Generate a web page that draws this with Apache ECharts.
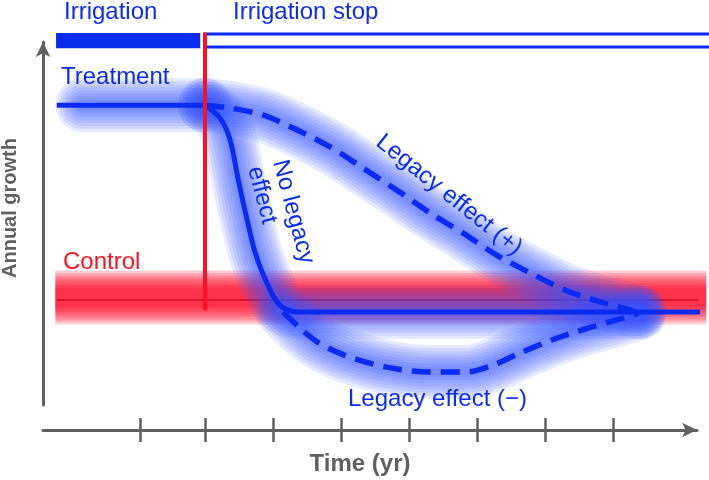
<!DOCTYPE html>
<html><head><meta charset="utf-8">
<script src="https://cdn.jsdelivr.net/npm/echarts@6/dist/echarts.min.js"></script>
<style>html,body{margin:0;padding:0;background:#fff}#c{width:709px;height:480px}</style>
</head><body><div id="c"></div>
<script>
// ---- data (time in years relative to irrigation stop, growth in relative units) ----
const timeTicks = [-0.95, 0, 1, 2, 3, 4, 5, 6];
const irrigationPeriod = [-2.19, -0.07];
const stopPeriod = [0, 7.5];
const treatment = [[-2.18, 82.6], [0, 82.6]];
const treatmentGlow = [[-1.8, 82.6], [0, 82.6]];
const control = [[-2.18, 28.9], [7.35, 28.9]];
const controlBand = [[-2.2, 29.6], [7.37, 29.6]];
const stopLine = [[0, 102.6], [0, 26.2]];
const noLegacy = [[0, 82.6], [0.22, 79.1], [0.37, 73.0], [0.49, 62.0], [0.62, 51.0], [0.74, 41.9],
  [0.91, 33.6], [1.06, 28.4], [1.21, 26.2], [1.40, 25.6], [7.41, 25.6]];
const noLegacyGlow = [[0, 82.6], [0.22, 79.1], [0.37, 73.0], [0.49, 62.0], [0.62, 51.0], [0.74, 41.9],
  [0.91, 33.6], [1.06, 28.4], [1.21, 26.2], [1.40, 25.6], [6.4, 25.6]];
const legacyPos = [[0, 82.6], [0.37, 81.8], [0.85, 79.9], [1.35, 75.8], [1.84, 71.1], [2.32, 65.3],
  [2.82, 59.2], [3.31, 52.9], [3.79, 47.4], [4.29, 41.3], [4.78, 36.4], [5.29, 31.7], [5.81, 28.4], [6.37, 25.6]];
const legacyNeg = [[1.15, 25.6], [1.38, 21.5], [1.65, 17.4], [2.04, 13.8], [2.65, 10.5], [3.31, 9.1],
  [3.84, 9.1], [4.24, 11.0], [4.63, 14.3], [5.10, 17.9], [5.63, 21.2], [6.16, 24.0], [6.37, 25.3]];

const BLUE = '#0a2cf0', RED = '#ff1020', GRAY = '#606060';
const FONT = "'Liberation Sans', Arial, Helvetica, sans-serif";

function glowLayers(data, rgb, n, minW, maxW, alpha, z, cap) {
  const out = [];
  for (let i = 0; i < n; i++) {
    const w = maxW - (maxW - minW) * i / (n - 1);
    out.push({type: 'line', data, symbol: 'none', smooth: 0.3, clip: false, silent: true, z,
      lineStyle: {color: 'rgba(' + rgb + ',' + alpha + ')', width: w, cap: cap || 'round', join: 'round'}});
  }
  return out;
}
function line(data, z, extra) {
  return {type: 'line', data, symbol: 'none', smooth: 0.3, clip: false, silent: true, z,
    lineStyle: Object.assign({color: BLUE, width: 5, cap: 'butt', join: 'round'}, extra || {})};
}

const BLUE_RGB = '50,80,255';
const chart = echarts.init(document.getElementById('c'), null, {renderer: 'canvas'});
const xBase = {type: 'value', min: -2.382, max: 7.235, position: 'bottom', offset: 25,
  axisLabel: {show: false}, splitLine: {show: false}};
chart.setOption({
  animation: false,
  grid: {left: 43, right: 12, top: 42, bottom: 75},
  xAxis: [
    Object.assign({}, xBase, {
      axisLine: {show: true, onZero: false, symbol: ['none', 'arrow'], symbolSize: [11, 15], lineStyle: {color: GRAY, width: 3}},
      axisTick: {show: true, inside: false, length: 12, customValues: timeTicks, lineStyle: {color: GRAY, width: 2.5}}
    }),
    Object.assign({}, xBase, {
      axisLine: {show: false, onZero: false},
      axisTick: {show: true, inside: true, length: 12, customValues: timeTicks, lineStyle: {color: GRAY, width: 2.5}}
    })
  ],
  yAxis: {type: 'value', min: 0, max: 100,
    axisLine: {show: true, onZero: false, symbol: ['none', 'arrow'], symbolSize: [11, 15], lineStyle: {color: GRAY, width: 3}},
    axisTick: {show: false}, axisLabel: {show: false}, splitLine: {show: false}},
  series: [].concat(
    // control band (red glow)
    glowLayers(controlBand, '255,10,40', 8, 18, 54, 0.2, 1, 'butt'),
    [{type: 'line', data: control, symbol: 'none', clip: false, silent: true, z: 2,
      lineStyle: {color: '#e0102a', width: 2}}],
    // blue glows
    glowLayers(treatmentGlow, BLUE_RGB, 8, 10, 54, 0.12, 3),
    glowLayers(noLegacyGlow, BLUE_RGB, 8, 10, 54, 0.12, 3),
    glowLayers(legacyPos, BLUE_RGB, 8, 10, 54, 0.12, 3),
    glowLayers(legacyNeg, BLUE_RGB, 8, 10, 54, 0.12, 3),
    [
      line(treatment, 5), line(noLegacy, 5),
      line(legacyPos, 5, {type: [19, 10], width: 5.5}),
      line(legacyNeg, 5, {type: [19, 10], width: 5.5}),
      {type: 'custom', clip: false, silent: true, z: 6,
        data: [[irrigationPeriod[0], irrigationPeriod[1], 102.5, 98.3, 1], [stopPeriod[0], stopPeriod[1], 102.2, 98.6, 0]],
        encode: {x: [0, 1], y: [2, 3]},
        renderItem: function (params, api) {
          const p1 = api.coord([api.value(0), api.value(2)]);
          const p2 = api.coord([api.value(1), api.value(3)]);
          const filled = api.value(4) === 1;
          return {type: 'rect', shape: {x: p1[0], y: p1[1], width: p2[0] - p1[0], height: p2[1] - p1[1]},
            style: filled ? {fill: BLUE} : {fill: '#fff', stroke: BLUE, lineWidth: 3}};
        }},
      {type: 'line', data: stopLine, symbol: 'none', clip: false, silent: true, z: 8,
        lineStyle: {color: RED, width: 4}}
    ]
  ),
  graphic: [
    {type: 'text', x: 64, y: 12, z: 20, style: {text: 'Irrigation', fill: BLUE, font: '24px ' + FONT, textVerticalAlign: 'middle'}},
    {type: 'text', x: 233, y: 12, z: 20, style: {text: 'Irrigation stop', fill: BLUE, font: '24px ' + FONT, textVerticalAlign: 'middle'}},
    {type: 'text', x: 61, y: 77, z: 20, style: {text: 'Treatment', fill: BLUE, font: '24px ' + FONT, textVerticalAlign: 'middle'}},
    {type: 'text', x: 63, y: 262, z: 20, style: {text: 'Control', fill: RED, font: '24px ' + FONT, textVerticalAlign: 'middle'}},
    {type: 'text', x: 348, y: 399, z: 20, style: {text: 'Legacy effect (\u2212)', fill: BLUE, font: '24px ' + FONT, textVerticalAlign: 'middle'}},
    {type: 'text', x: 449, y: 195, rotation: -38.5 * Math.PI / 180, z: 20,
      style: {text: 'Legacy effect (+)', fill: BLUE, font: '24px ' + FONT, textAlign: 'center', textVerticalAlign: 'middle'}},
    {type: 'text', x: 292, y: 157, rotation: -75 * Math.PI / 180, z: 20,
      style: {text: 'No legacy\neffect', fill: BLUE, font: '24px ' + FONT, lineHeight: 26, textAlign: 'left', textVerticalAlign: 'top'}},
    {type: 'text', x: 360, y: 464, z: 20, style: {text: 'Time (yr)', fill: GRAY, font: 'bold 24px ' + FONT, textAlign: 'center', textVerticalAlign: 'middle'}},
    {type: 'text', x: 10, y: 208, rotation: Math.PI / 2, z: 20,
      style: {text: 'Annual growth', fill: GRAY, font: 'bold 20px ' + FONT, textAlign: 'center', textVerticalAlign: 'middle'}}
  ]
});
</script>
</body></html>
